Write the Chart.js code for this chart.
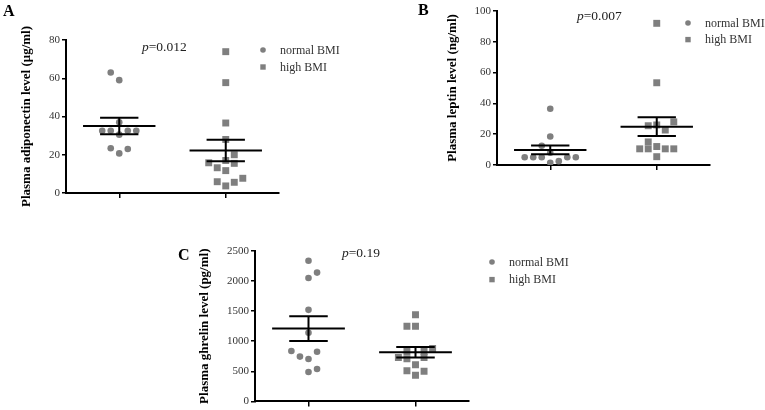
<!DOCTYPE html>
<html>
<head>
<meta charset="utf-8">
<script src="https://cdn.jsdelivr.net/npm/chart.js@4.4.1/dist/chart.umd.min.js"></script>
<style>
  body { margin: 0; background: #fff; }
  #wrap { position: relative; width: 765px; height: 410px; overflow: hidden; }
  .panel { position: absolute; }
</style>
</head>
<body>
<div id="wrap">
  <div class="panel" style="left:0;top:0;width:380px;height:215px"><canvas id="chartA"></canvas></div>
  <div class="panel" style="left:400px;top:0;width:365px;height:215px"><canvas id="chartB"></canvas></div>
  <div class="panel" style="left:150px;top:215px;width:450px;height:195px"><canvas id="chartC"></canvas></div>
</div>
<script>
const groups = ["normal BMI", "high BMI"];
const groupPos = [1, 2];

// A: adiponectin (μg/ml)
const adipoNormal = [63, 59, 37, 32.5, 32.5, 32.5, 32.5, 30.5, 23.4, 20.7, 23];
const adipoNormalJit = [-0.08, 0, 0, -0.16, -0.08, 0.08, 0.16, 0, -0.08, 0, 0.08];
const adipoHigh = [73.9, 57.7, 36.6, 28, 20, 17, 15.8, 15.5, 13.2, 11.7, 5.9, 3.7, 5.6, 7.7];
const adipoHighJit = [0, 0, 0, 0, 0.08, 0, -0.16, 0.08, -0.08, 0, -0.08, 0, 0.08, 0.16];
const adipoMean = [35, 22.2];
const adipoSem = [4.3, 5.6];

// B: leptin (ng/ml)
const leptinNormal = [36.5, 18.5, 12.5, 8, 5, 5, 5, 5, 5, 1.5, 2.5];
const leptinNormalJit = [0, 0, -0.08, 0, -0.24, -0.16, -0.08, 0.16, 0.24, 0, 0.08];
const leptinHigh = [92, 53.4, 28, 25.5, 22.7, 26, 15, 10.5, 10.5, 12, 10.5, 10.5, 5.4];
const leptinHighJit = [0, 0, 0.16, -0.08, 0.08, 0, -0.08, -0.16, -0.08, 0, 0.08, 0.16, 0];
const leptinMean = [9.8, 24.9];
const leptinSem = [2.8, 6.1];

// C: ghrelin (pg/ml)
const ghrelinNormal = [2337, 2050, 2141, 1522, 1142, 837, 745, 706, 826, 489, 538];
const ghrelinNormalJit = [0, 0, 0.08, 0, 0, -0.16, -0.08, 0, 0.08, 0, 0.08];
const ghrelinHigh = [1440, 1250, 1250, 880, 830, 830, 730, 710, 730, 610, 510, 435, 500];
const ghrelinHighJit = [0, -0.08, 0, 0.16, -0.08, 0.08, -0.16, -0.08, 0.08, 0, -0.08, 0, 0.08];
const ghrelinMean = [1210, 818];
const ghrelinSem = [205, 87];

const yTicksA = [0, 80, 20];
const yTicksB = [0, 100, 20];
const yTicksC = [0, 2500, 500];

const serif = "'Liberation Serif', 'Times New Roman', serif";
const dotColor = "#7f7f7f";

const toPoints = (pos, vals, jit) => vals.map((v, i) => ({ x: pos + jit[i], y: v }));

const errorBar = (cx, mean, sem) => [
  { x: cx - 0.34, y: mean }, { x: cx + 0.34, y: mean }, { x: cx, y: null },
  { x: cx - 0.18, y: mean + sem }, { x: cx + 0.18, y: mean + sem }, { x: cx, y: null },
  { x: cx - 0.18, y: mean - sem }, { x: cx + 0.18, y: mean - sem }, { x: cx, y: null },
  { x: cx, y: mean + sem }, { x: cx, y: mean - sem },
];

// letter, p value and legend drawn on the canvas
const panelText = {
  id: "panelText",
  afterDraw(chart, args, o) {
    const ctx = chart.ctx;
    ctx.save();
    ctx.textBaseline = "alphabetic";
    ctx.fillStyle = "#000";
    ctx.font = "bold 16px " + serif;
    ctx.fillText(o.letter, o.letterX, o.letterY);

    ctx.fillStyle = "#222";
    ctx.font = "italic 13.5px " + serif;
    ctx.fillText("p", o.pX, o.pY);
    const pw = ctx.measureText("p").width;
    ctx.font = "13.5px " + serif;
    ctx.fillText("=" + o.pText, o.pX + pw, o.pY);

    ctx.font = "12px " + serif;
    groups.forEach((g, i) => {
      const y = o.legY + i * o.legGap;
      ctx.fillStyle = dotColor;
      if (i === 0) {
        ctx.beginPath();
        ctx.arc(o.legX, y, 2.8, 0, Math.PI * 2);
        ctx.fill();
      } else {
        ctx.fillRect(o.legX - 2.7, y - 2.7, 5.4, 5.4);
      }
      ctx.fillStyle = "#333";
      ctx.textBaseline = "middle";
      ctx.fillText(g, o.legX + 17, y + 0.5);
    });
    ctx.restore();
  },
};

const makePanel = (id, p) => {
  const data = {
    datasets: [
      { data: errorBar(groupPos[0], p.mean[0], p.sem[0]), showLine: true, spanGaps: false,
        borderColor: "#000", borderWidth: 2, pointRadius: 0, pointHoverRadius: 0, order: 0 },
      { data: errorBar(groupPos[1], p.mean[1], p.sem[1]), showLine: true, spanGaps: false,
        borderColor: "#000", borderWidth: 2, pointRadius: 0, pointHoverRadius: 0, order: 0 },
      { label: groups[0], data: toPoints(groupPos[0], p.normal, p.normalJit), pointStyle: "circle",
        pointRadius: 3.3, pointBackgroundColor: dotColor, pointBorderWidth: 0, order: 1 },
      { label: groups[1], data: toPoints(groupPos[1], p.high, p.highJit), pointStyle: "rect",
        pointRadius: 4.9, pointBackgroundColor: dotColor, pointBorderWidth: 0, order: 1 },
    ],
  };

  const config = {
    type: "scatter",
    data: data,
    options: {
      responsive: true,
      maintainAspectRatio: false,
      animation: false,
      events: [],
      layout: { padding: { left: 0, top: p.area.top, right: p.w - p.area.right, bottom: 0 } },
      plugins: {
        legend: { display: false },
        tooltip: { enabled: false },
        panelText: p.text,
      },
      scales: {
        x: {
          type: "linear",
          min: 0.5,
          max: 2.5,
          afterBuildTicks: (s) => { s.ticks = groupPos.map((v) => ({ value: v })); },
          afterFit: (s) => { s.height = p.h - p.area.bottom; },
          ticks: { display: false },
          grid: { drawOnChartArea: false, drawTicks: true, tickLength: 5, color: "#000", lineWidth: 1.5 },
          border: { display: true, color: "#000", width: 2 },
        },
        y: {
          min: p.yTicks[0],
          max: p.yTicks[1],
          afterFit: (s) => { s.width = p.area.left; },
          ticks: {
            stepSize: p.yTicks[2],
            color: "#333",
            padding: 2,
            font: { family: serif, size: 11 },
            callback: (v) => String(v),
          },
          grid: { drawOnChartArea: false, tickLength: 4, color: "#000", lineWidth: 1.5 },
          border: { display: true, color: "#000", width: 2 },
          title: {
            display: true,
            text: p.yTitle,
            color: "#000",
            font: { family: serif, size: 13, weight: "bold" },
            padding: { top: p.titlePad, bottom: 0 },
          },
        },
      },
    },
    plugins: [panelText],
  };

  const ctx = document.getElementById(id).getContext("2d");
  return new Chart(ctx, config);
};

makePanel("chartA", {
  w: 380, h: 215, area: { left: 66, top: 40, right: 279, bottom: 193 },
  normal: adipoNormal, normalJit: adipoNormalJit, high: adipoHigh, highJit: adipoHighJit,
  mean: adipoMean, sem: adipoSem, yTicks: yTicksA,
  yTitle: "Plasma adiponectin level (μg/ml)", titlePad: 19,
  text: { letter: "A", letterX: 3, letterY: 16, pText: "0.012", pX: 142, pY: 51,
          legX: 263, legY: 50, legGap: 17 },
});

makePanel("chartB", {
  w: 365, h: 215, area: { left: 97, top: 11, right: 310, bottom: 165 },
  normal: leptinNormal, normalJit: leptinNormalJit, high: leptinHigh, highJit: leptinHighJit,
  mean: leptinMean, sem: leptinSem, yTicks: yTicksB,
  yTitle: "Plasma leptin level (ng/ml)", titlePad: 45,
  text: { letter: "B", letterX: 18, letterY: 15, pText: "0.007", pX: 177, pY: 20,
          legX: 288, legY: 23, legGap: 16.6 },
});

makePanel("chartC", {
  w: 450, h: 195, area: { left: 105, top: 36, right: 319, bottom: 189 },
  normal: ghrelinNormal, normalJit: ghrelinNormalJit, high: ghrelinHigh, highJit: ghrelinHighJit,
  mean: ghrelinMean, sem: ghrelinSem, yTicks: yTicksC,
  yTitle: "Plasma ghrelin level (pg/ml)", titlePad: 47,
  text: { letter: "C", letterX: 28, letterY: 45, pText: "0.19", pX: 192, pY: 42,
          legX: 342, legY: 47, legGap: 17.6 },
});
</script>
</body>
</html>
